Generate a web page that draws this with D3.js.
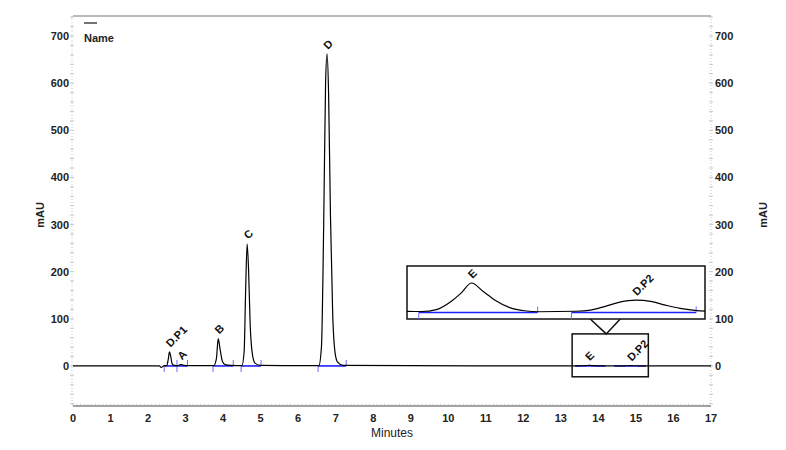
<!DOCTYPE html>
<html>
<head>
<meta charset="utf-8">
<script src="https://cdn.jsdelivr.net/npm/d3@7"></script>
<style>
  html, body { margin: 0; padding: 0; background: #fff; }
  svg { display: block; font-family: Arial, "Liberation Sans", sans-serif; }
</style>
</head>
<body>
<svg id="chart" width="786" height="450"></svg>
<script>
// ---------- data ----------
// chromatogram trace: [minutes, mAU]
const traceTimes = [0, 2.3, 2.35, 2.42, 2.5, 2.54, 2.57, 2.6, 2.64, 2.7, 2.8, 2.86, 2.9, 2.95, 3.1,
  3.75, 3.82, 3.87, 3.92, 3.98, 4.05, 4.2,
  4.5, 4.56, 4.6, 4.64, 4.68, 4.72, 4.78, 4.85, 5.0,
  6.55, 6.62, 6.68, 6.73, 6.77, 6.81, 6.86, 6.92, 6.98, 7.05, 7.2,
  13.2, 13.4, 13.5, 13.6, 13.67, 13.74, 13.82, 13.9, 14.0, 14.1, 14.2,
  14.45, 14.55, 14.65, 14.75, 14.86, 14.96, 15.06, 15.16, 15.26, 15.36, 15.6, 17];
const traceValues = [0, 0, -3, 0, 1, 15, 30, 22, 5, 1, 0.5, 3, 3, 1, 0.5,
  0.5, 15, 58, 35, 10, 3, 1,
  0.5, 30, 160, 259, 200, 90, 25, 6, 1,
  0.5, 40, 300, 600, 662, 580, 320, 110, 30, 8, 1,
  0.05, 0.04, 0.12, 0.45, 0.8, 1.2, 0.85, 0.5, 0.2, 0.07, 0.03,
  0.05, 0.1, 0.25, 0.42, 0.5, 0.45, 0.3, 0.17, 0.09, 0.05, 0.03, 0];

// peak table
const peakNames  = ["D.P1", "A", "B", "C", "D", "E", "D.P2"];
const peakTimes  = [2.57, 2.88, 3.87, 4.64, 6.77, 13.74, 14.86];
const peakHeights = [30, 3, 58, 259, 662, 1.2, 0.5];
const baseStarts = [2.43, 2.77, 3.73, 4.48, 6.53, 13.38, 14.42];
const baseEnds   = [2.77, 3.05, 4.27, 5.01, 7.28, 14.19, 15.27];

// axes
const xTicks = d3.range(0, 18, 1);
const yTicks = [0, 100, 200, 300, 400, 500, 600, 700];
const xDomain = [0, 17];
const yDomain = [-85, 742.5];
// zoomed window shown in the inset
const zoomTimes = [13.3, 15.33];
const zoomMAU = [-23, 68];
const insetMAU = [0, 1.2];

// ---------- drawing ----------
const svg = d3.select("#chart");
const x = d3.scaleLinear().domain(xDomain).range([73, 711]);
const y = d3.scaleLinear().domain(yDomain).range([406, 16]);
const trace = traceTimes.map((t, i) => [t, traceValues[i]]);
const BLUE = "#1f1fff", BLUE_T = "#6a6aff";

// top frame line
svg.append("line").attr("x1", x(0)).attr("x2", x(17)).attr("y1", y(yDomain[1])).attr("y2", y(yDomain[1]))
  .attr("stroke", "#777").attr("stroke-width", 1);

// left & right dotted axes
function yAxisSide(px, anchor, labelX) {
  svg.append("line").attr("x1", px).attr("x2", px).attr("y1", y(yDomain[1])).attr("y2", y(yDomain[0]))
    .attr("stroke", "#c8c8c8").attr("stroke-dasharray", "1,2");
  const minor = d3.range(-80, 741, 20);
  svg.append("g").selectAll("line").data(minor).join("line")
    .attr("x1", px - 2).attr("x2", px + 2).attr("y1", d => y(d)).attr("y2", d => y(d))
    .attr("stroke", "#bbb").attr("stroke-width", 0.8);
  svg.append("g").selectAll("text").data(yTicks).join("text")
    .attr("x", labelX).attr("y", d => y(d) + 4)
    .attr("text-anchor", anchor).attr("font-size", 11).attr("font-weight", "bold").attr("fill", "#222")
    .text(d => d);
}
yAxisSide(x(0) - 1, "end", x(0) - 4);
yAxisSide(x(17), "start", x(17) + 4);

// bottom axis
svg.append("line").attr("x1", x(0)).attr("x2", x(17)).attr("y1", y(yDomain[0])).attr("y2", y(yDomain[0]))
  .attr("stroke", "#444").attr("stroke-width", 1);
svg.append("g").selectAll("line").data(d3.range(0, 170, 1).map(d => d / 10)).join("line")
  .attr("x1", d => x(d)).attr("x2", d => x(d)).attr("y1", y(yDomain[0]) - 2).attr("y2", y(yDomain[0]))
  .attr("stroke", "#aaa").attr("stroke-width", 0.7);
svg.append("g").selectAll("text").data(xTicks).join("text")
  .attr("x", d => x(d)).attr("y", y(yDomain[0]) + 16)
  .attr("text-anchor", "middle").attr("font-size", 11).attr("font-weight", "bold").attr("fill", "#222")
  .text(d => d);

// axis titles
svg.append("text").attr("x", x(8.5)).attr("y", 437).attr("text-anchor", "middle")
  .attr("font-size", 12).attr("fill", "#222").text("Minutes");
svg.append("text").attr("transform", "translate(44,215) rotate(-90)").attr("text-anchor", "middle")
  .attr("font-size", 11).attr("font-weight", "bold").attr("fill", "#222").text("mAU");
svg.append("text").attr("transform", "translate(767,215) rotate(-90)").attr("text-anchor", "middle")
  .attr("font-size", 11).attr("font-weight", "bold").attr("fill", "#222").text("mAU");

// legend
svg.append("line").attr("x1", 84).attr("x2", 97).attr("y1", 23).attr("y2", 23)
  .attr("stroke", "#444").attr("stroke-width", 1.5);
svg.append("text").attr("x", 84).attr("y", 42).attr("font-size", 11).attr("font-weight", "bold")
  .attr("fill", "#222").text("Name");

// baselines (blue)
const segs = peakNames.map((n, i) => ({ s: baseStarts[i], e: baseEnds[i] }));
svg.append("g").selectAll("line").data(segs).join("line")
  .attr("x1", d => x(d.s)).attr("x2", d => x(d.e)).attr("y1", y(0)).attr("y2", y(0))
  .attr("stroke", BLUE).attr("stroke-width", 1.6);
const mainTickSegs = segs.filter(d => d.s < zoomTimes[0]);
svg.append("g").selectAll("line").data(mainTickSegs).join("line")
  .attr("x1", d => x(d.s)).attr("x2", d => x(d.s)).attr("y1", y(0)).attr("y2", y(0) + 6)
  .attr("stroke", BLUE_T).attr("stroke-width", 1);
svg.append("g").selectAll("line").data(mainTickSegs).join("line")
  .attr("x1", d => x(d.e)).attr("x2", d => x(d.e)).attr("y1", y(0) - 6).attr("y2", y(0))
  .attr("stroke", BLUE_T).attr("stroke-width", 1);

// main trace
const line = d3.line().x(d => x(d[0])).y(d => y(d[1])).curve(d3.curveMonotoneX);
svg.append("path").datum(trace).attr("d", line).attr("fill", "none")
  .attr("stroke", "#000").attr("stroke-width", 1.2);

// peak labels (rotated)
function labels(g, names, times, heights, sx, sy) {
  g.selectAll("text.pk").data(names).join("text").attr("class", "pk")
    .attr("transform", (d, i) => `translate(${sx(times[i]) + 1},${sy(heights[i]) - 4}) rotate(-45)`)
    .attr("font-size", 11).attr("font-weight", "bold").attr("fill", "#111")
    .text(d => d);
}
labels(svg.append("g"), peakNames, peakTimes, peakHeights, x, y);

// zoom window box
const zx0 = x(zoomTimes[0]), zx1 = x(zoomTimes[1]);
const zy0 = y(zoomMAU[1]), zy1 = y(zoomMAU[0]);
svg.append("rect").attr("x", zx0).attr("y", zy0).attr("width", zx1 - zx0).attr("height", zy1 - zy0)
  .attr("fill", "none").attr("stroke", "#111").attr("stroke-width", 1.5);

// inset
const ix = d3.scaleLinear().domain(zoomTimes).range([407, 705]);
const iy = d3.scaleLinear().domain(insetMAU).range([312.5, 283]);
const inset = { x: 407, y: 266, w: 298, h: 53 };
// callout
const cx = (zx0 + zx1) / 2 - 4;
svg.append("path")
  .attr("d", `M${cx - 16},${inset.y + inset.h} L${cx},${zy0} L${cx + 14},${inset.y + inset.h}`)
  .attr("fill", "none").attr("stroke", "#111").attr("stroke-width", 1.5);
svg.append("rect").attr("x", inset.x).attr("y", inset.y).attr("width", inset.w).attr("height", inset.h)
  .attr("fill", "#fff").attr("stroke", "#111").attr("stroke-width", 1.5);
svg.append("clipPath").attr("id", "insetClip").append("rect")
  .attr("x", inset.x).attr("y", inset.y).attr("width", inset.w).attr("height", inset.h);
const ig = svg.append("g").attr("clip-path", "url(#insetClip)");
const insetSegs = segs.filter(d => d.s >= zoomTimes[0] && d.e <= zoomTimes[1]);
ig.selectAll("line.b").data(insetSegs).join("line").attr("class", "b")
  .attr("x1", d => ix(d.s)).attr("x2", d => ix(d.e)).attr("y1", iy(0)).attr("y2", iy(0))
  .attr("stroke", BLUE).attr("stroke-width", 1.6);
ig.selectAll("line.ts").data(insetSegs).join("line").attr("class", "ts")
  .attr("x1", d => ix(d.s)).attr("x2", d => ix(d.s)).attr("y1", iy(0)).attr("y2", inset.y + inset.h)
  .attr("stroke", BLUE_T).attr("stroke-width", 1);
ig.selectAll("line.te").data(insetSegs).join("line").attr("class", "te")
  .attr("x1", d => ix(d.e)).attr("x2", d => ix(d.e)).attr("y1", iy(0) - 6).attr("y2", iy(0))
  .attr("stroke", BLUE_T).attr("stroke-width", 1);
const iline = d3.line().x(d => ix(d[0])).y(d => iy(d[1])).curve(d3.curveMonotoneX);
ig.append("path").datum(trace.filter(d => d[0] >= 13 && d[0] <= 16)).attr("d", iline)
  .attr("fill", "none").attr("stroke", "#000").attr("stroke-width", 1.2);
const insetIdx = peakNames.map((n, i) => i).filter(i => peakTimes[i] > zoomTimes[0] && peakTimes[i] < zoomTimes[1]);
labels(svg.append("g"), insetIdx.map(i => peakNames[i]), insetIdx.map(i => peakTimes[i]),
  insetIdx.map(i => peakHeights[i]), ix, iy);
</script>
</body>
</html>
